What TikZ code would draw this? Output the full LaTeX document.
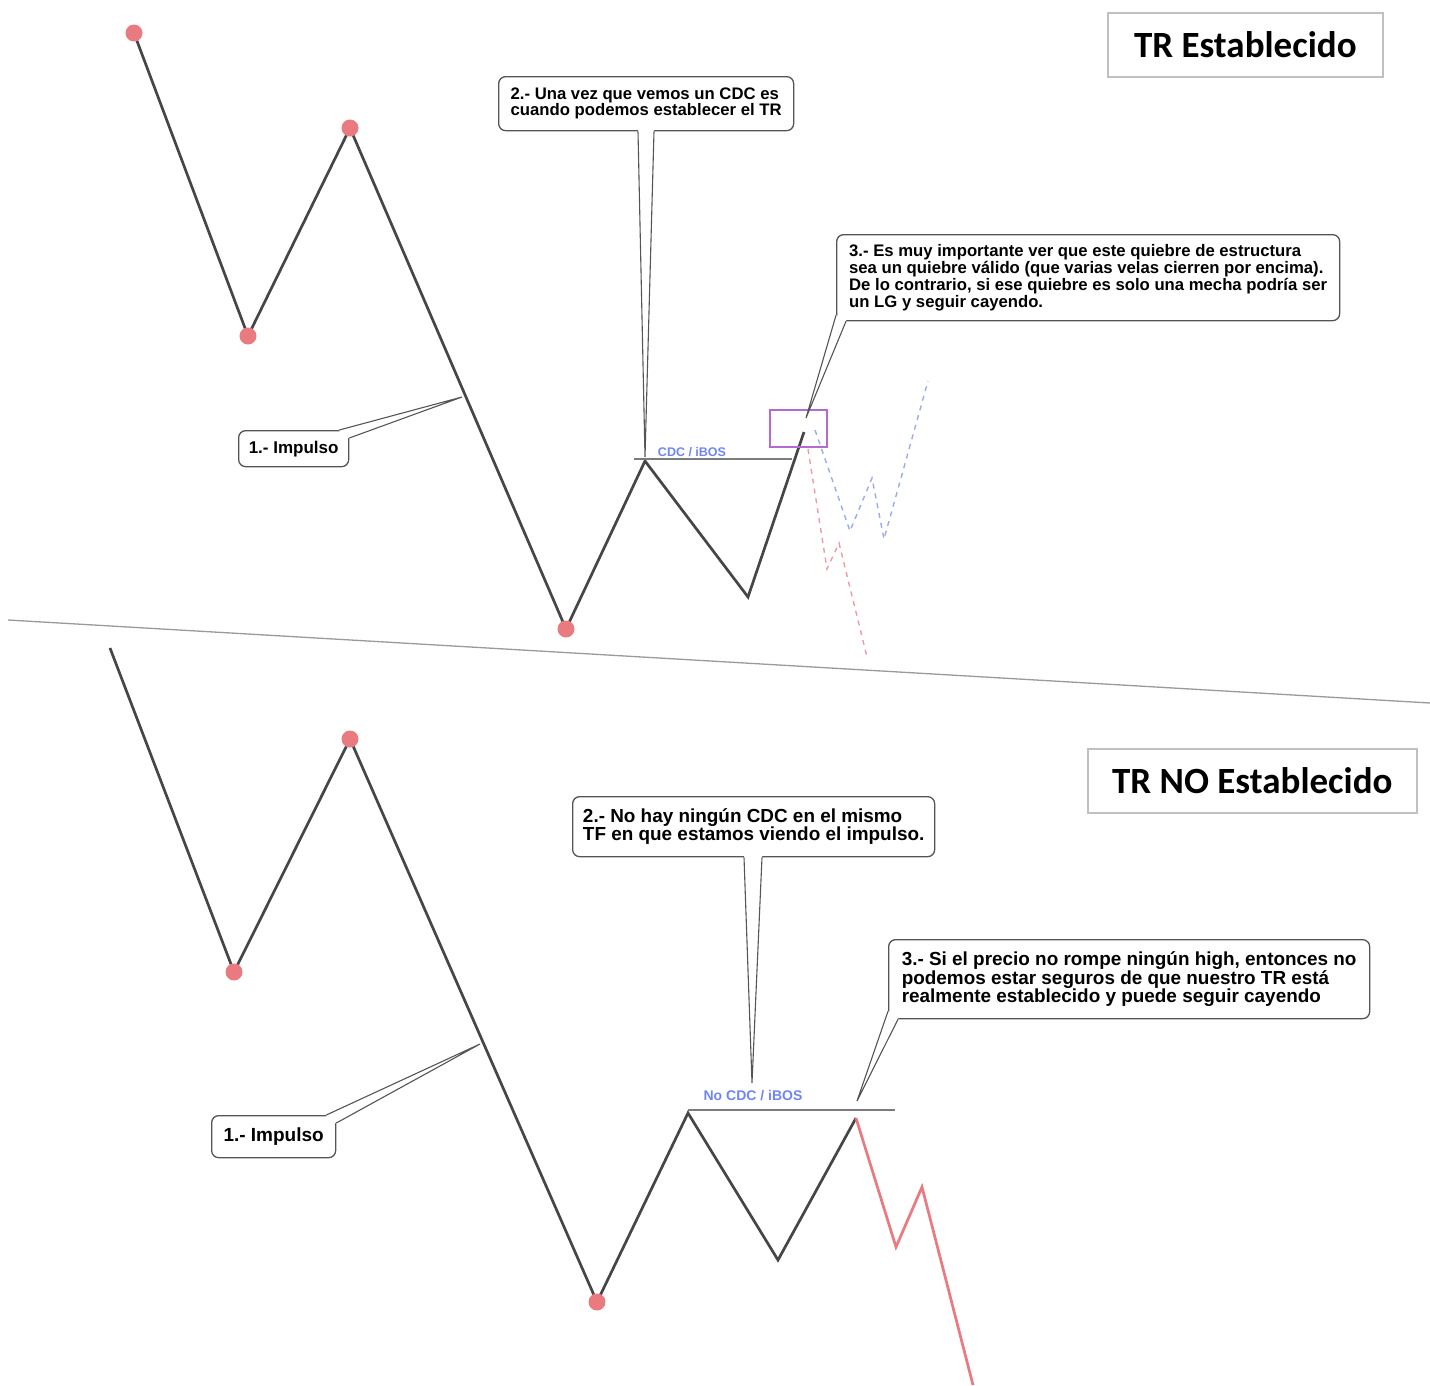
\documentclass[tikz,border=0pt]{standalone}
\usepackage{fontspec}
\setmainfont{Liberation Sans}
\newfontfamily\titlefont{Carlito}
\usetikzlibrary{calc}

\definecolor{pricegray}{HTML}{464646}
\definecolor{dotred}{HTML}{E97A80}
\definecolor{dashred}{HTML}{EE9AA4}
\definecolor{dashblue}{HTML}{9AABEE}
\definecolor{levelgray}{HTML}{7C7C7C}
\definecolor{cdcblue}{HTML}{6F86F2}
\definecolor{boxviolet}{HTML}{B56AD2}
\definecolor{framegray}{HTML}{C0C0C0}
\definecolor{notegray}{HTML}{555555}
\definecolor{sepgray}{HTML}{9A9A9A}

\begin{document}
\begin{tikzpicture}[x=1pt,y=-1pt,
    price/.style={draw=pricegray,line width=2.7pt},
    swing/.style={fill=dotred},
    cdcline/.style={draw=levelgray,line width=1.6pt},
    cdctext/.style={text=cdcblue,inner sep=0pt,font=\bfseries\fontsize{12.5}{14}\selectfont},
    note/.style={draw=notegray,fill=white,line width=1.3pt,rounded corners=7pt,
                 align=left,inner sep=0pt,anchor=north west},
    notetail/.style={draw=notegray,line width=1.1pt},
    tagbox/.style={draw=framegray,line width=1.6pt,inner sep=0pt,anchor=north west,
                   font=\titlefont\bfseries\fontsize{37}{40}\selectfont},
    future/.style={line width=1.4pt,dash pattern=on 5pt off 5pt}
]
\useasboundingbox (0,0) rectangle (1430,1385);

% Draw the upper swing path
\coordinate (t1) at (134,33);
\coordinate (t2) at (248,336);
\coordinate (t3) at (350,128);
\coordinate (t4) at (566,629);
\coordinate (t5) at (645,461);
\coordinate (t6) at (748,597);
\coordinate (t7) at (804,432);
\draw[price] (t1) -- (t2) -- (t3) -- (t4) -- (t5) -- (t6) -- (t7);
\foreach \p in {t1,t2,t3,t4} \fill[swing] (\p) circle (8.5pt);

% CDC level and break box
\coordinate (cdcL) at (634,459);
\coordinate (cdcR) at (792,459);
\draw[cdcline] (cdcL) -- (cdcR);
\node[cdctext] (cdc) at (692,452) {CDC / iBOS};
\draw[boxviolet,line width=1.3pt] (770,410) rectangle (827,447);

% Possible continuations
\draw[future,dashred] (808,449) -- (827,569) -- (839,543) -- (867,657);
\draw[future,dashblue] (815,430) -- (850,531) -- (872,478) -- (884,539) -- (928,381);

% Upper notes
\node[note,minimum width=110,minimum height=36,font=\bfseries\fontsize{17}{18}\selectfont]
  (note1) at (238,430) {1.- Impulso};
\node[note,minimum width=295,minimum height=54,font=\bfseries\fontsize{16.7}{16.4}\selectfont]
  (note2) at (498,76) {2.- Una vez que vemos un CDC es\\cuando podemos establecer el TR};
\node[note,minimum width=503,minimum height=86,font=\bfseries\fontsize{16.7}{17}\selectfont]
  (note3) at (836,234) {3.- Es muy importante ver que este quiebre de estructura\\sea un quiebre válido (que varias velas cierren por encima).\\De lo contrario, si ese quiebre es solo una mecha podría ser\\un LG y seguir cayendo.};

\coordinate (tip1) at (462,397);
\fill[white] ($(note1.north east)+(-10,0)$) -- (tip1) -- ($(note1.north east)+(0,8)$)
  -- ($(note1.north east)+(-3,8)$) -- ($(note1.north east)+(-10,3)$) -- cycle;
\draw[notetail] ($(note1.north east)+(-10,0)$) -- (tip1) -- ($(note1.north east)+(0,8)$);

\coordinate (tip2) at (645,457);
\fill[white] ($(note2.south west)+(140,0)$) -- (tip2) -- ($(note2.south west)+(156,0)$)
  -- ($(note2.south west)+(156,-3)$) -- ($(note2.south west)+(140,-3)$) -- cycle;
\draw[notetail] ($(note2.south west)+(140,0)$) -- (tip2) -- ($(note2.south west)+(156,0)$);

\coordinate (tip3) at (806,418);
\fill[white] ($(note3.south west)+(0,-6)$) -- (tip3) -- ($(note3.south west)+(10,0)$)
  -- ($(note3.south west)+(10,-3)$) -- ($(note3.south west)+(3,-6)$) -- cycle;
\draw[notetail] ($(note3.south west)+(0,-6)$) -- (tip3) -- ($(note3.south west)+(10,0)$);

\node[tagbox,minimum width=275,minimum height=64] (tag1) at (1107,12) {TR Establecido};

% Separator
\coordinate (sepL) at (8,620);
\coordinate (sepR) at (1430,703);
\draw[sepgray,line width=1.3pt] (sepL) -- (sepR);

% Draw the lower swing path
\coordinate (b0) at (110,648);
\coordinate (b1) at (234,972);
\coordinate (b2) at (350,739);
\coordinate (b3) at (597,1302);
\coordinate (b4) at (688,1113);
\coordinate (b5) at (778,1260);
\coordinate (b6) at (856,1118);
\coordinate (r1) at (896,1247);
\coordinate (r2) at (922,1187);
\coordinate (r3) at (973,1385);
\draw[price] (b0) -- (b1) -- (b2) -- (b3) -- (b4) -- (b5) -- (b6);
\draw[price,draw=dotred] (b6) -- (r1) -- (r2) -- (r3);
\foreach \p in {b1,b2,b3} \fill[swing] (\p) circle (8.5pt);

\coordinate (ncdcL) at (688,1110);
\coordinate (ncdcR) at (895,1110);
\draw[cdcline] (ncdcL) -- (ncdcR);
\node[cdctext,font=\bfseries\fontsize{14}{16}\selectfont] (ncdc) at (753,1096) {No CDC / iBOS};

% Lower notes
\node[note,minimum width=124,minimum height=42,font=\bfseries\fontsize{19}{20}\selectfont]
  (note4) at (211,1115) {1.- Impulso};
\node[note,minimum width=362,minimum height=60,font=\bfseries\fontsize{18.9}{18.4}\selectfont]
  (note5) at (572,796) {2.- No hay ningún CDC en el mismo\\TF en que estamos viendo el impulso.};
\node[note,minimum width=481,minimum height=79,font=\bfseries\fontsize{18.9}{18.6}\selectfont]
  (note6) at (888,939) {3.- Si el precio no rompe ningún high, entonces no\\podemos estar seguros de que nuestro TR está\\realmente establecido y puede seguir cayendo};

\coordinate (tip4) at (480,1044);
\fill[white] ($(note4.north east)+(-10,0)$) -- (tip4) -- ($(note4.north east)+(0,8)$)
  -- ($(note4.north east)+(-3,8)$) -- ($(note4.north east)+(-10,3)$) -- cycle;
\draw[notetail] ($(note4.north east)+(-10,0)$) -- (tip4) -- ($(note4.north east)+(0,8)$);

\coordinate (tip5) at (752,1083);
\fill[white] ($(note5.south west)+(172,0)$) -- (tip5) -- ($(note5.south west)+(190,0)$)
  -- ($(note5.south west)+(190,-3)$) -- ($(note5.south west)+(172,-3)$) -- cycle;
\draw[notetail] ($(note5.south west)+(172,0)$) -- (tip5) -- ($(note5.south west)+(190,0)$);

\coordinate (tip6) at (857,1101);
\fill[white] ($(note6.south west)+(0,-8)$) -- (tip6) -- ($(note6.south west)+(10,0)$)
  -- ($(note6.south west)+(10,-3)$) -- ($(note6.south west)+(3,-8)$) -- cycle;
\draw[notetail] ($(note6.south west)+(0,-8)$) -- (tip6) -- ($(note6.south west)+(10,0)$);

\node[tagbox,minimum width=329,minimum height=64] (tag2) at (1087,748) {TR NO Establecido};

\end{tikzpicture}
\end{document}
